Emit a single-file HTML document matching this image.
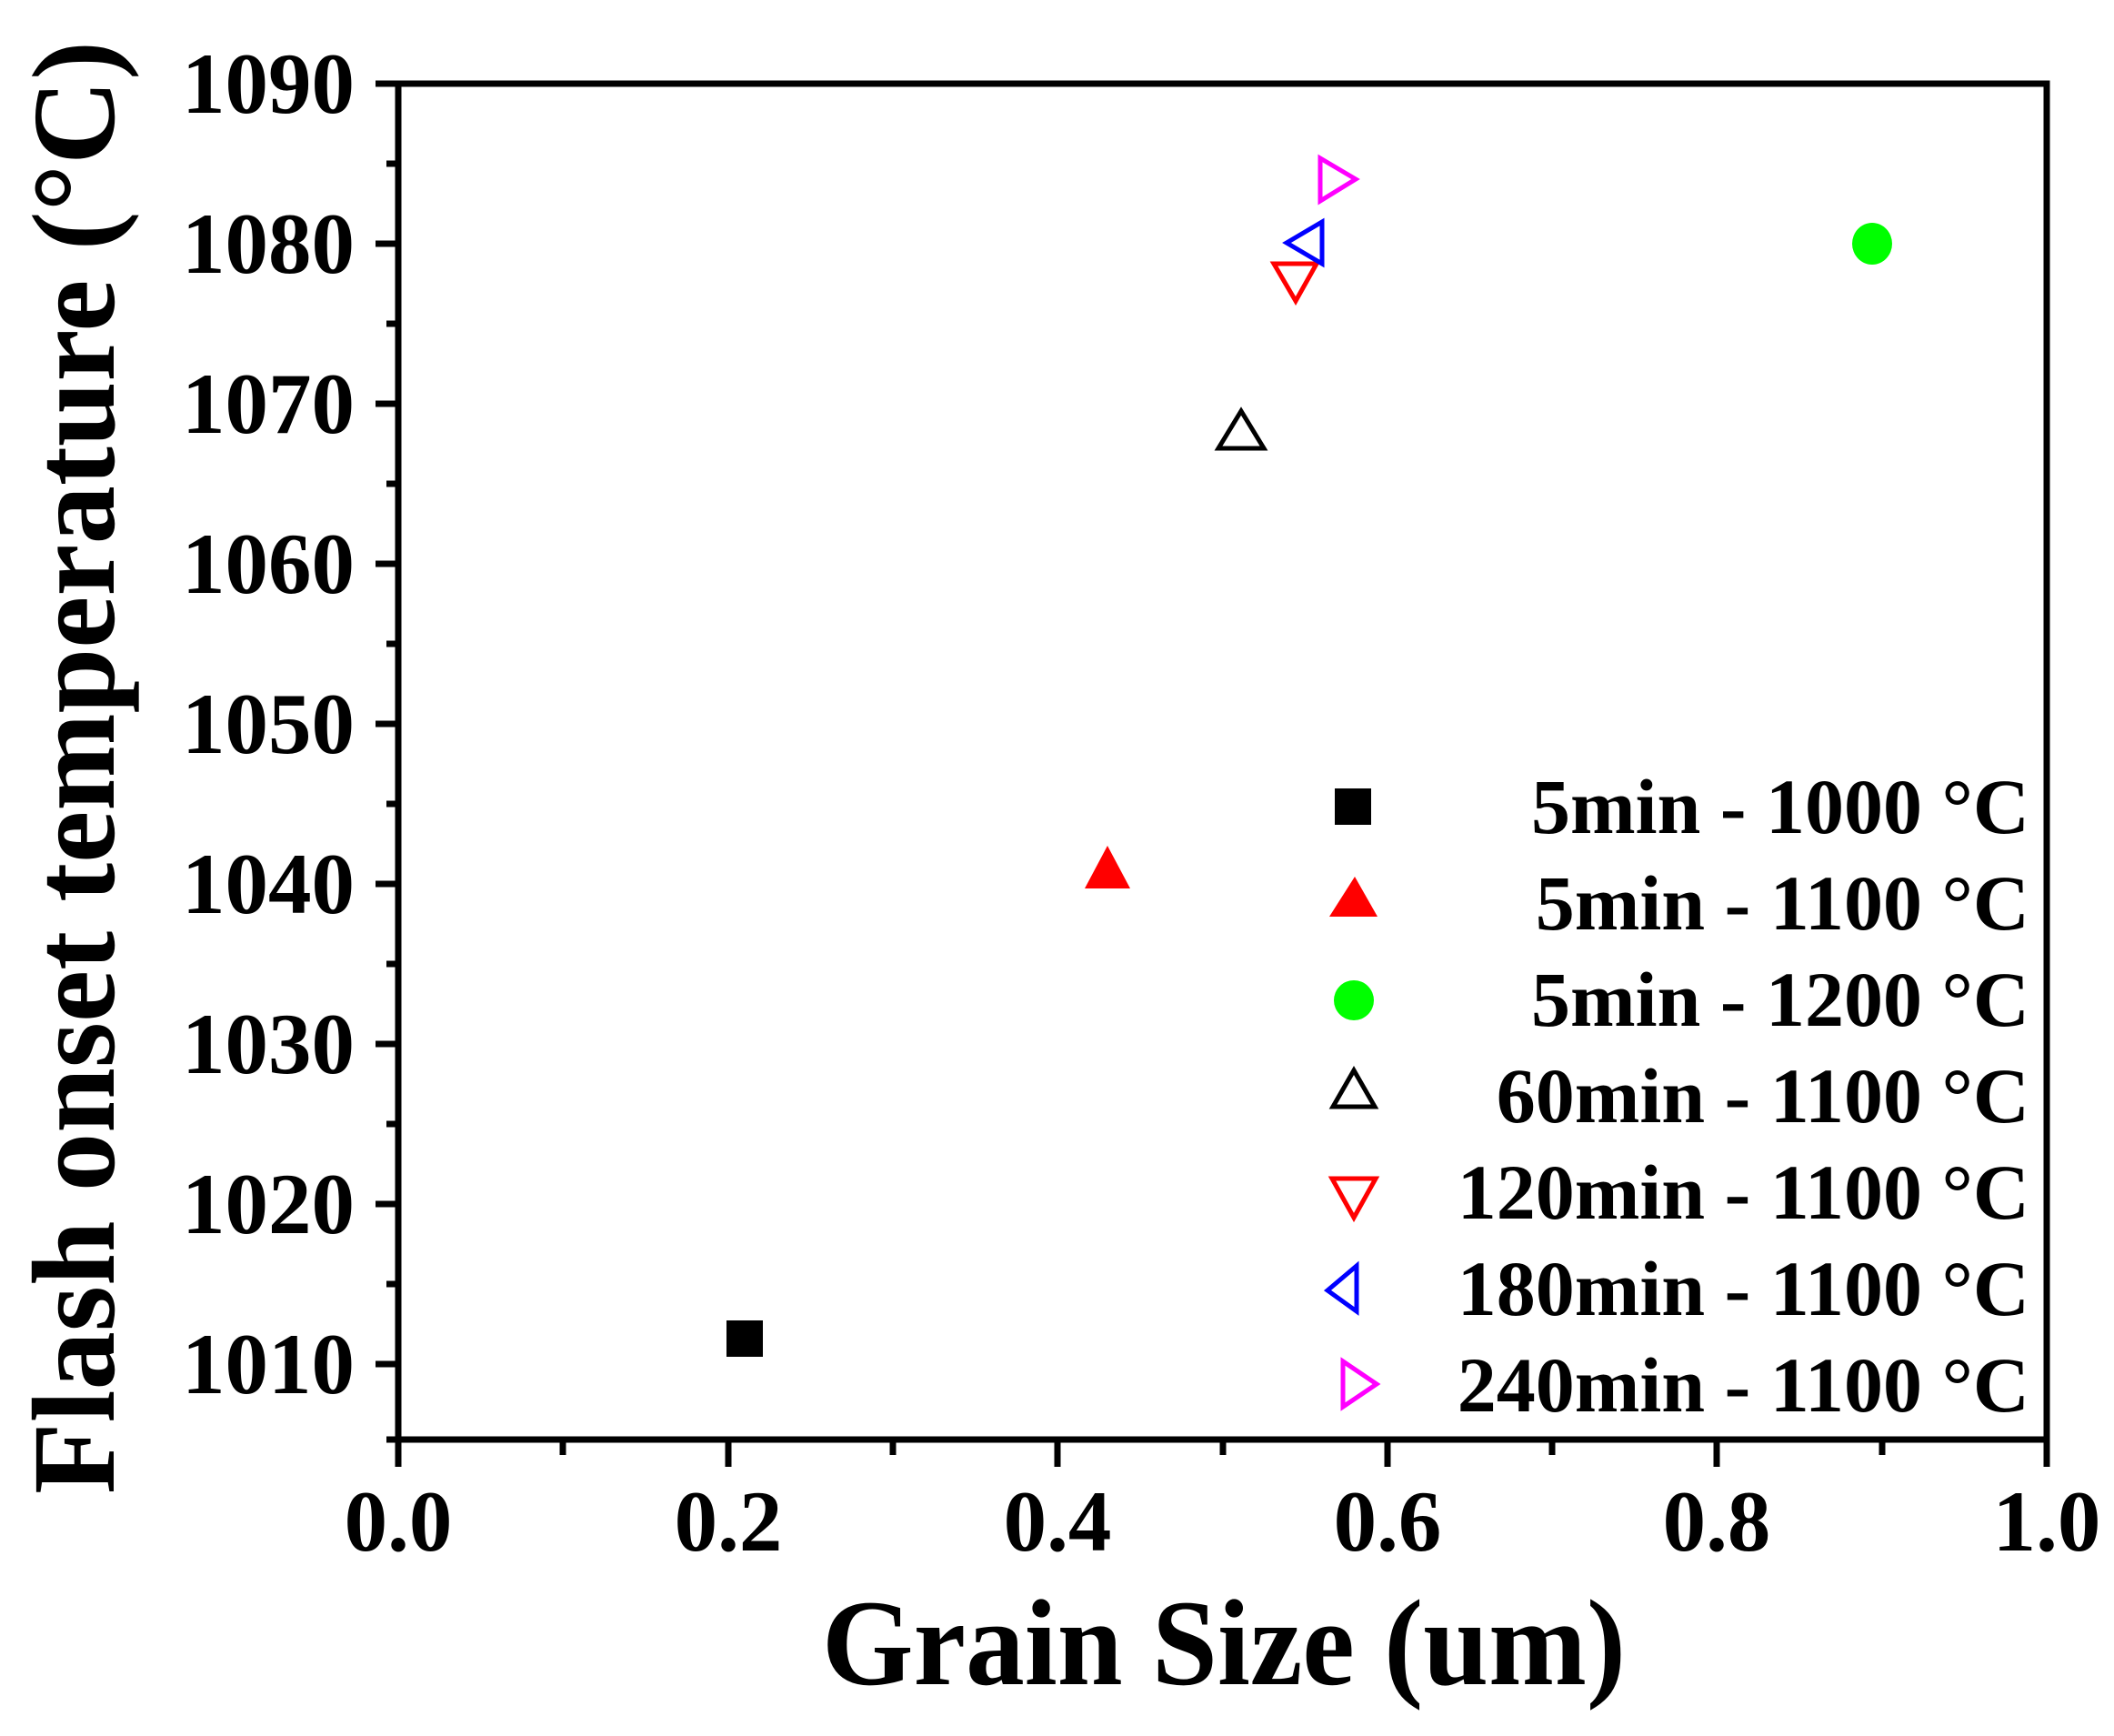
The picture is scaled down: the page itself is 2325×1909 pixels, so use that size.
<!DOCTYPE html>
<html><head><meta charset="utf-8"><style>
html,body{margin:0;padding:0;background:#fff;}
svg{display:block;}
text{font-family:"Liberation Serif",serif;font-weight:bold;fill:#000;}
</style></head><body>
<svg width="2325" height="1909" viewBox="0 0 2325 1909" xmlns="http://www.w3.org/2000/svg">
<g stroke="#000" stroke-width="7" fill="none">
<rect x="438" y="92" width="1813" height="1491"/>
<path d="M413 92H438M413 268H438M413 444H438M413 620H438M413 796H438M413 972H438M413 1148H438M413 1324H438M413 1500H438"/>
<path d="M425 180H438M425 356H438M425 532H438M425 708H438M425 884H438M425 1060H438M425 1236H438M425 1412H438M425 1583H438"/>
<path d="M438 1583V1613M801 1583V1613M1163 1583V1613M1526 1583V1613M1888 1583V1613M2251 1583V1613"/>
<path d="M619 1583V1600M982 1583V1600M1345 1583V1600M1707 1583V1600M2070 1583V1600"/>
</g>
<g font-size="95" text-anchor="end">
<text x="390" y="124">1090</text>
<text x="390" y="300">1080</text>
<text x="390" y="476">1070</text>
<text x="390" y="652">1060</text>
<text x="390" y="828">1050</text>
<text x="390" y="1004">1040</text>
<text x="390" y="1180">1030</text>
<text x="390" y="1356">1020</text>
<text x="390" y="1532">1010</text>
</g>
<g font-size="95" text-anchor="middle">
<text x="438" y="1705">0.0</text>
<text x="801" y="1705">0.2</text>
<text x="1163" y="1705">0.4</text>
<text x="1526" y="1705">0.6</text>
<text x="1888" y="1705">0.8</text>
<text x="2251" y="1705">1.0</text>
</g>
<text x="904" y="1852" font-size="135" textLength="884" lengthAdjust="spacingAndGlyphs">Grain Size (um)</text>
<text transform="translate(125,1643) rotate(-90)" font-size="130" textLength="1598" lengthAdjust="spacingAndGlyphs">Flash onset temperature (°C)</text>
<rect x="799" y="1452" width="40" height="40" fill="#000"/>
<polygon points="1218,930 1243,977 1193,977" fill="#f00"/>
<ellipse cx="2059" cy="268" rx="22" ry="23" fill="#0f0"/>
<polygon points="1365,452 1390,493 1340,493" fill="none" stroke="#000" stroke-width="5"/>
<polygon points="1401,290 1448,290 1425,331" fill="none" stroke="#f00" stroke-width="5"/>
<polygon points="1415,267 1454,244 1454,290" fill="none" stroke="#00f" stroke-width="5"/>
<polygon points="1452,174 1452,221 1491,197" fill="none" stroke="#f0f" stroke-width="5"/>
<rect x="1468" y="867" width="40" height="40" fill="#000"/>
<polygon points="1490,964 1515,1008 1462,1008" fill="#f00"/>
<circle cx="1489" cy="1100" r="22" fill="#0f0"/>
<polygon points="1489,1177 1512,1217 1466,1217" fill="none" stroke="#000" stroke-width="5"/>
<polygon points="1465,1296 1513,1296 1489,1339" fill="none" stroke="#f00" stroke-width="5"/>
<polygon points="1460,1419 1492,1392 1492,1442" fill="none" stroke="#00f" stroke-width="5"/>
<polygon points="1477,1497 1477,1547 1514,1522" fill="none" stroke="#f0f" stroke-width="5"/>
<g font-size="86" text-anchor="end">
<text x="2232" y="916">5min - 1000 °C</text>
<text x="2232" y="1022">5min - 1100 °C</text>
<text x="2232" y="1128">5min - 1200 °C</text>
<text x="2232" y="1234">60min - 1100 °C</text>
<text x="2232" y="1340">120min - 1100 °C</text>
<text x="2232" y="1446">180min - 1100 °C</text>
<text x="2232" y="1552">240min - 1100 °C</text>
</g>
</svg>
</body></html>
